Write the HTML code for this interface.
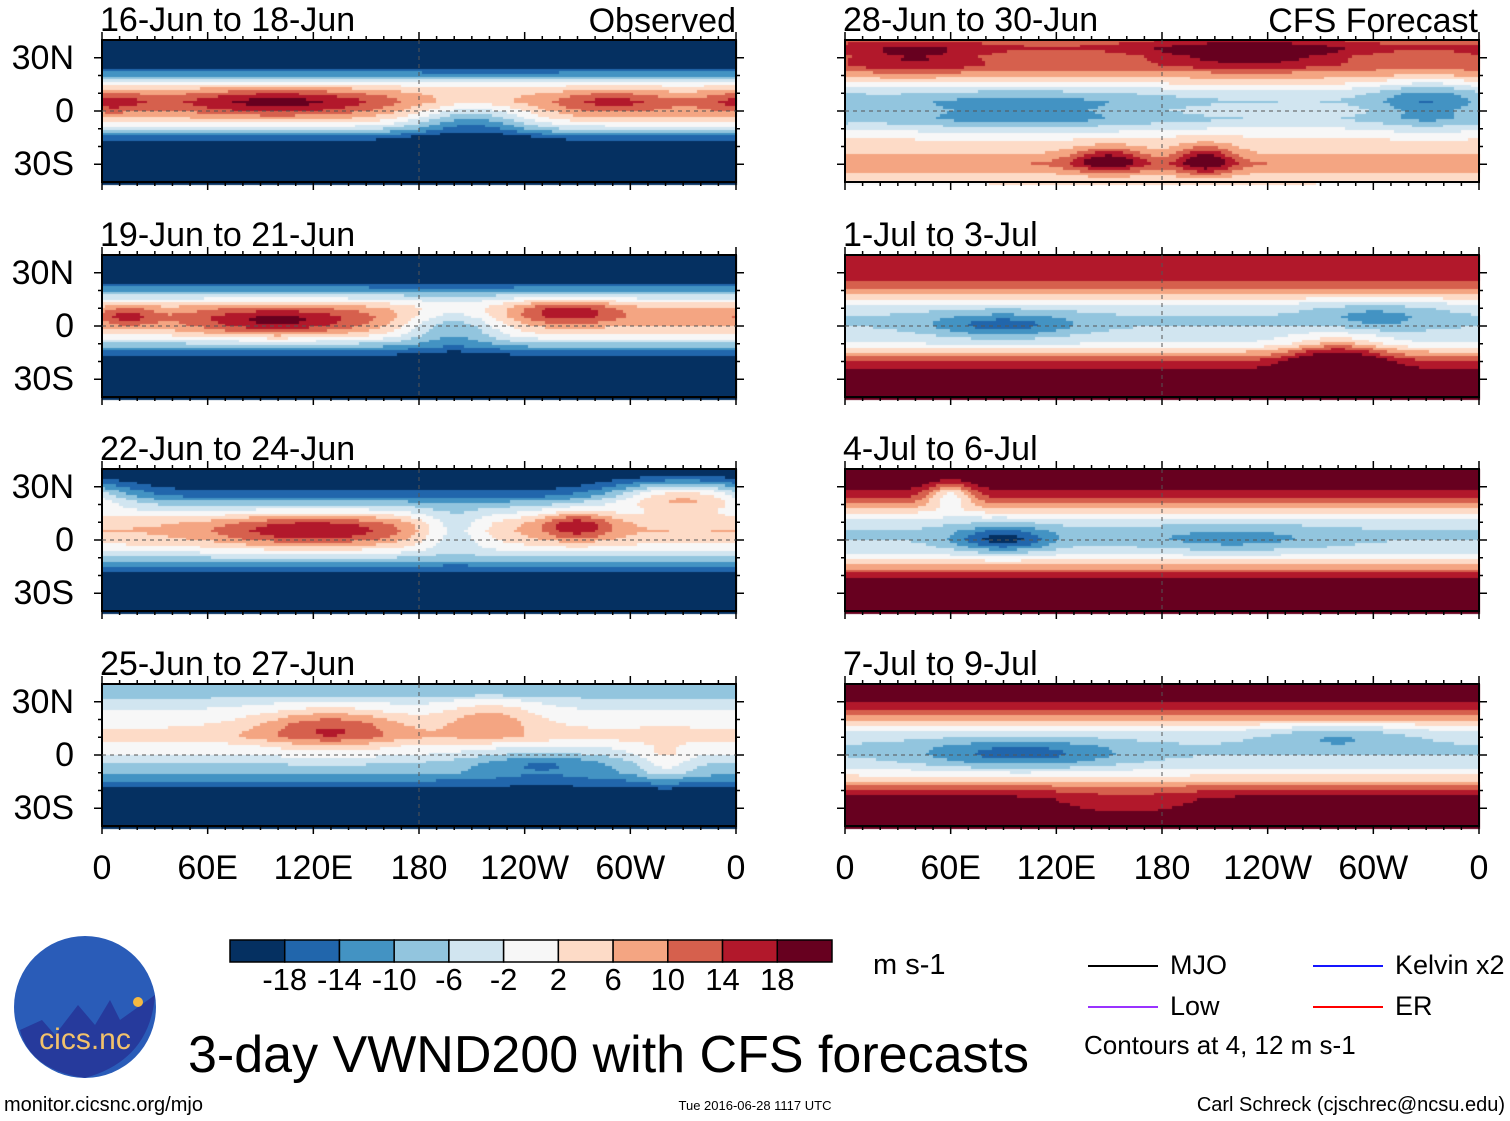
<!DOCTYPE html>
<html><head><meta charset="utf-8">
<style>
body{margin:0;background:#fff;width:1510px;height:1121px;overflow:hidden;position:relative;font-family:"Liberation Sans",sans-serif;color:#000}
.t{position:absolute;white-space:nowrap;line-height:1}
canvas{position:absolute}
</style></head><body>
<canvas id="cv" width="1510" height="900" style="left:0;top:0"></canvas>
<svg id="ov" width="1510" height="1121" style="position:absolute;left:0;top:0"></svg>
<div id="txt"></div>
<script>
// color levels (m s-1)
const levels=[-18,-14,-10,-6,-2,2,6,10,14,18];
const colors=["#053061","#2166ac","#4393c3","#92c5de","#d1e5f0","#f7f7f7","#fddbc7","#f4a582","#d6604d","#b2182b","#67001f"];
const profileLats=[40,35,30,25,20,15,10,5,0,-5,-10,-15,-20,-25,-30,-35,-40];
const panelTitles=["16-Jun to 18-Jun","19-Jun to 21-Jun","22-Jun to 24-Jun","25-Jun to 27-Jun","28-Jun to 30-Jun","1-Jul to 3-Jul","4-Jul to 6-Jul","7-Jul to 9-Jul"];
const profL1=[-22,-22,-22,-20,-12,0,6,10,8,4,-4,-16,-22,-22,-22,-22,-22];
const profL2=[-22,-22,-22,-20,-12,-2,6,8,6,2,-6,-16,-22,-22,-22,-22,-22];
const profL3=[-22,-22,-20,-16,-8,-2,4,6,4,0,-6,-14,-20,-22,-22,-22,-22];
const profL4=[-6,-10,-4,-2,0,2,4,0,-2,-6,-8,-14,-20,-22,-22,-22,-22];
const profR1=[12,14,10,12,8,2,-4,-6,-4,-6,-2,2,4,6,10,6,2];
const profR2=[18,16,18,14,10,2,-4,-6,-6,-4,-2,6,14,18,22,22,22];
const profR3=[22,22,20,16,10,2,-4,-6,-6,-4,0,8,16,22,22,22,22];
const profR4=[22,22,18,14,8,0,-4,-6,-6,-4,0,6,14,20,22,22,22];
// blobs: [lon, lat, amplitude, lonWidth, latWidth]
const blobL1=[[100,5,10,40,6],[210,-5,-14,25,8],[290,5,6,20,5],[5,5,6,15,5]];
const blobL2=[[100,2,12,35,6],[265,8,10,20,5],[200,0,-14,20,8],[15,5,8,10,4]];
const blobL3=[[120,5,12,40,7],[270,8,12,15,6],[200,5,-10,15,8],[330,25,20,30,6]];
const blobL4=[[130,15,12,30,8],[220,20,8,20,8],[320,-5,6,10,8],[250,-5,-8,30,6]];
const blobR1=[[150,-28,14,15,5],[205,-28,14,12,6],[100,0,-8,50,8],[230,32,12,40,5],[330,5,-8,20,10],[40,30,8,30,5]];
const blobR2=[[90,0,-10,30,5],[280,-20,14,20,10],[300,5,-6,25,6]];
const blobR3=[[90,0,-14,20,5],[220,0,-6,40,5],[60,25,-15,10,5]];
const blobR4=[[100,0,-10,40,6],[160,-28,-6,30,5],[280,10,-6,30,5]];
const latTicks=["30N","0","30S"];
const lonTicks=["0","60E","120E","180","120W","60W","0"];
const cbLabels=["-18","-14","-10","-6","-2","2","6","10","14","18"];

const profiles=[profL1,profL2,profL3,profL4,profR1,profR2,profR3,profR4];
const blobs=[blobL1,blobL2,blobL3,blobL4,blobR1,blobR2,blobR3,blobR4];
const panelX=[102,845], panelW=634, rowY=[40,255,469,684], panelH=142;
function lonX(px,lon){return px+lon/360*panelW;}
function latY(py,lat){return py+panelH/2-lat/80*panelH;}
function colorOf(v){let i=0;while(i<levels.length&&v>=levels[i])i++;return colors[i];}
function prof(p,lat){
  for(let i=0;i<profileLats.length-1;i++){const a=profileLats[i],b=profileLats[i+1];
    if(lat<=a&&lat>=b){const t=(a-lat)/(a-b);return p[i]*(1-t)+p[i+1]*t;}}
  return lat>0?p[0]:p[p.length-1];
}
const ctx=document.getElementById('cv').getContext('2d');
const svg=document.getElementById('ov');
const NS="http://www.w3.org/2000/svg";
function mk(tag,attrs,name){const e=document.createElementNS(NS,tag);for(const k in attrs)e.setAttribute(k,attrs[k]);
  
  
  svg.appendChild(e);return e;}
const txt=document.getElementById('txt');
function T(s,x,y,size,name,anchor){const d=document.createElement('div');d.className='t';d.textContent=s;
  d.style.left=x+'px';d.style.top=y+'px';d.style.fontSize=size+'px';
  if(anchor==='m')d.style.transform='translateX(-50%)';if(anchor==='r')d.style.transform='translateX(-100%)';
  
  
  txt.appendChild(d);return d;}

for(let k=0;k<8;k++){
  const px=panelX[k<4?0:1], py=rowY[k%4];
  const p=profiles[k], b=blobs[k];
  const dl=2, dlat=1.5;
  for(let lat=40;lat>-40;lat-=dlat){
    for(let lon=0;lon<360;lon+=dl){
      const la=lat-dlat/2, lo=lon+dl/2;
      let v=prof(p,la);
      for(const bl of b){let dx=lo-bl[0];if(dx>180)dx-=360;if(dx<-180)dx+=360;
        v+=bl[2]*Math.exp(-(dx*dx)/(2*bl[3]*bl[3])-((la-bl[1])*(la-bl[1]))/(2*bl[4]*bl[4]));}
      ctx.fillStyle=colorOf(v);
      const x0=lonX(px,lon),x1=lonX(px,lon+dl),y0=latY(py,lat),y1=latY(py,lat-dlat);
      ctx.fillRect(Math.floor(x0),Math.floor(y0),Math.ceil(x1-x0)+1,Math.ceil(y1-y0)+1);
    }
  }
  mk('rect',{x:px,y:py,width:panelW,height:panelH,fill:'none',stroke:'#000','stroke-width':2},'panel-frame');
  mk('line',{x1:px,x2:px+panelW,y1:latY(py,0),y2:latY(py,0),stroke:'#555','stroke-dasharray':'4 4','stroke-width':1},'equator-line');
  mk('line',{x1:lonX(px,180),x2:lonX(px,180),y1:py,y2:py+panelH,stroke:'#555','stroke-dasharray':'4 4','stroke-width':1},'dateline');
  for(let lon=0;lon<=360;lon+=10){const x=lonX(px,lon),L=lon%60===0?8:4;
    mk('line',{x1:x,x2:x,y1:py,y2:py-L,stroke:'#000','stroke-width':1.5},'tick');
    mk('line',{x1:x,x2:x,y1:py+panelH,y2:py+panelH+L,stroke:'#000','stroke-width':1.5},'tick');}
  for(let lat=-30;lat<=30;lat+=10){const y=latY(py,lat),L=lat%30===0?8:4;
    mk('line',{x1:px,x2:px-L,y1:y,y2:y,stroke:'#000','stroke-width':1.5},'tick');
    mk('line',{x1:px+panelW,x2:px+panelW+L,y1:y,y2:y,stroke:'#000','stroke-width':1.5},'tick');}
  T(panelTitles[k],px-2,py-37,34,'panel-title');
  if(k<4){[30,0,-30].forEach((lat,i)=>T(latTicks[i],74,latY(py,lat)-17,34,'lat-label','r'));}
}
[0,1].forEach(c=>lonTicks.forEach((s,i)=>T(s,lonX(panelX[c],i*60),851,34,'lon-label','m')));
T("Observed",736,4,34,'observed-label','r');
T("CFS Forecast",1478,4,34,'forecast-label','r');
const cbX=230,cbW=602/11;
colors.forEach((c,i)=>mk('rect',{x:cbX+i*cbW,y:940,width:cbW,height:22,fill:c,stroke:'#000','stroke-width':1.5},'colorbar-box'));
cbLabels.forEach((s,i)=>T(s,cbX+(i+1)*cbW,964,31,'colorbar-label','m'));
T("m s-1",873,951,29,'units-label');
const leg=[["MJO","#000",1088,966],["Kelvin x2","#1515ff",1313,966],["Low","#9933ff",1088,1007],["ER","#ff0000",1313,1007]];
leg.forEach(l=>{mk('line',{x1:l[2],x2:l[2]+70,y1:l[3],y2:l[3],stroke:l[1],'stroke-width':2},'legend-line');T(l[0],l[2]+82,l[3]-14,27,'legend-entry');});
T("Contours at 4, 12 m s-1",1084,1032,26,'contour-note');
T("3-day VWND200 with CFS forecasts",188,1029,52,'main-title');
T("monitor.cicsnc.org/mjo",4,1095,20,'site-url');
T("Tue 2016-06-28 1117 UTC",755,1099,13,'timestamp','m');
T("Carl Schreck (cjschrec@ncsu.edu)",1505,1095,20,'author','r');
mk('circle',{cx:85,cy:1007,r:71,fill:'#2a5cb8'},'logo-circle');
mk('path',{d:'M20,1030 L42,1020 L55,1035 L78,1005 L95,1025 L110,1000 L120,1020 L155,995 Q150,1060 85,1078 Q30,1070 20,1030Z',fill:'#263a9c'},'logo-mountains');
mk('circle',{cx:138,cy:1002,r:5,fill:'#f5b942'},'logo-sun');
const lt=T("cics.nc",85,1025,30,'logo-text','m');lt.style.color='#f2c26b';
</script>
</body></html>
